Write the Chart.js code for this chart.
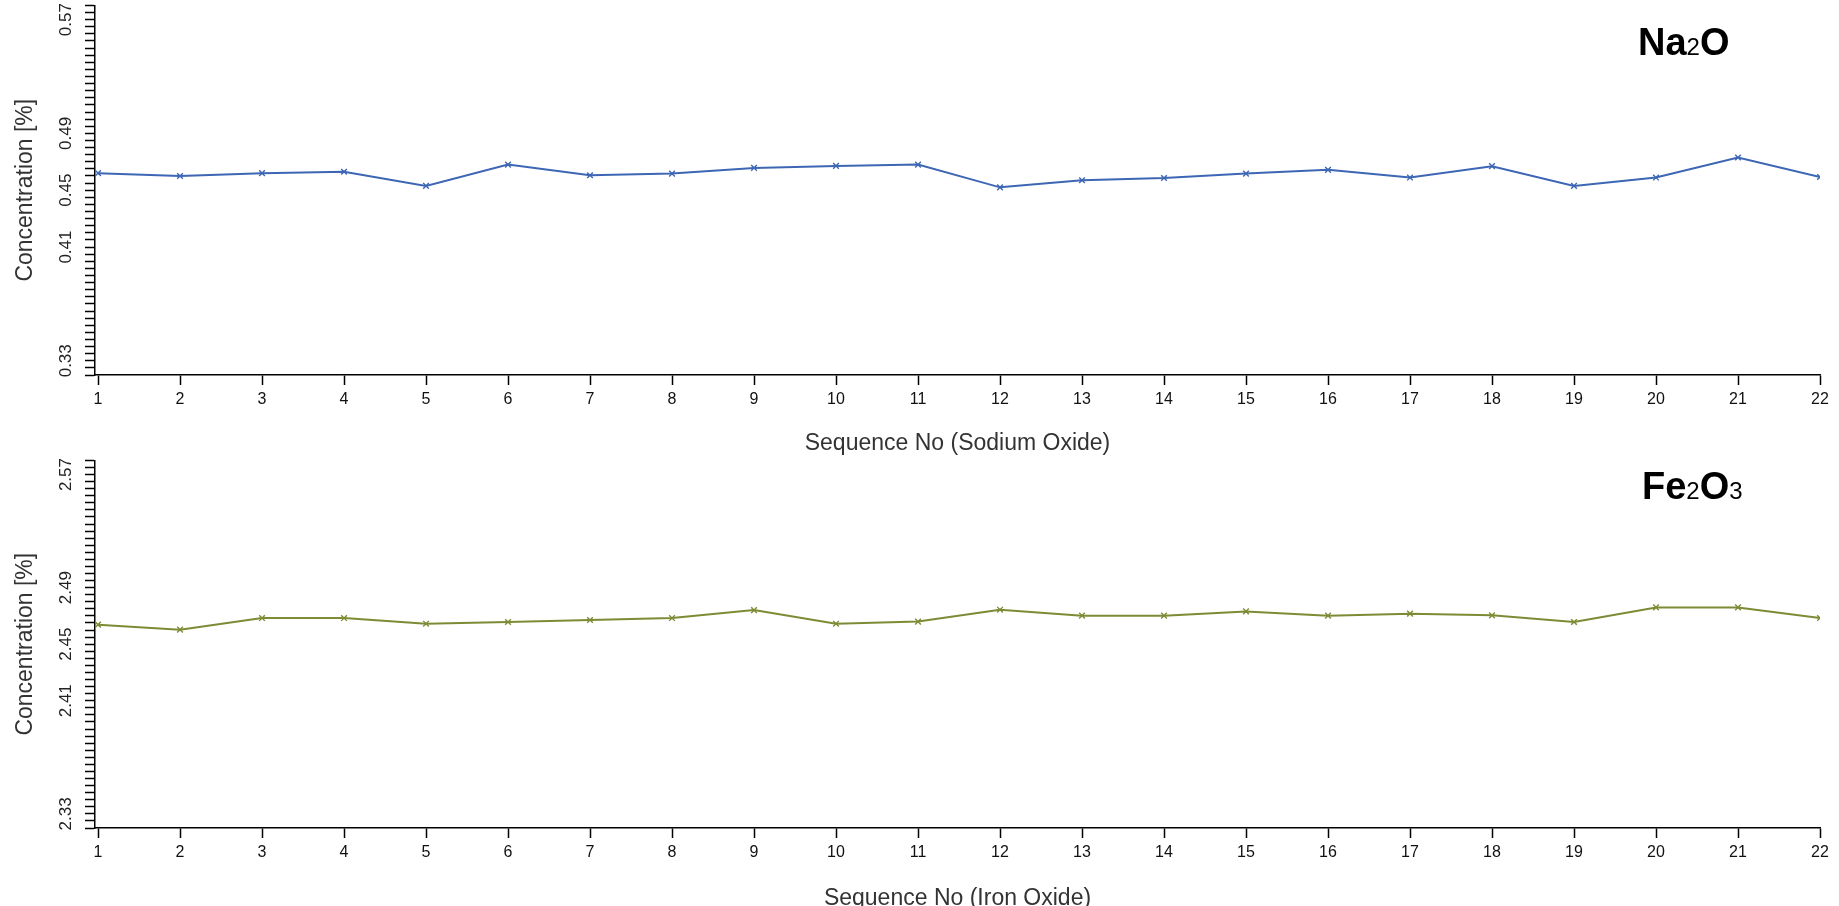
<!DOCTYPE html>
<html>
<head>
<meta charset="utf-8">
<title>Concentration by sequence</title>
<script src="https://cdn.jsdelivr.net/npm/chart.js@4.4.1/dist/chart.umd.min.js"></script>
<style>
  html, body { margin: 0; padding: 0; background: #ffffff; }
  body { width: 1839px; height: 906px; position: relative; overflow: hidden; }
  .panel { position: absolute; left: 0; width: 1839px; }
  #naPanel { top: 0; height: 455px; }
  #fePanel { top: 455px; height: 451px; }
</style>
</head>
<body>
<div class="panel" id="naPanel"><canvas id="naChart"></canvas></div>
<div class="panel" id="fePanel"><canvas id="feChart"></canvas></div>
<script>
// sequence numbers on the x axis
const sequence = [1, 2, 3, 4, 5, 6, 7, 8, 9, 10, 11, 12, 13, 14, 15, 16, 17, 18, 19, 20, 21, 22];

// sodium oxide concentration [%]
const na2o = [0.462, 0.460, 0.462, 0.463, 0.453, 0.468, 0.4605, 0.4617, 0.4657, 0.4671, 0.468,
  0.452, 0.457, 0.4586, 0.4617, 0.4643, 0.4589, 0.4669, 0.453, 0.4589, 0.473, 0.4593];

// iron oxide concentration [%]
const fe2o3 = [2.4638, 2.4603, 2.4685, 2.4685, 2.4645, 2.4657, 2.4671, 2.4685, 2.4741, 2.4645, 2.466,
  2.4744, 2.4702, 2.4702, 2.4732, 2.4702, 2.4716, 2.4704, 2.4657, 2.476, 2.476, 2.4685];

// labelled y values and axis ranges
const naTicks = [0.33, 0.41, 0.45, 0.49, 0.57];
const feTicks = [2.33, 2.41, 2.45, 2.49, 2.57];
const naRange = [0.32, 0.58];
const feRange = [2.32, 2.58];

// formula text: [text, subscript?]
const naFormula = [["Na", false], ["2", true], ["O", false]];
const feFormula = [["Fe", false], ["2", true], ["O", false], ["3", true]];

const FONT = "'Liberation Sans', Arial, sans-serif";

// y tick marks every 0.005, labels only on the listed values
function minorTicks(range) {
  const lo = Math.round(range[0] * 1000), hi = Math.round(range[1] * 1000);
  const out = [];
  for (let v = lo; v <= hi; v += 5) out.push({ value: v / 1000 });
  return out;
}

// draws the formula in the upper right, subscripts smaller on the same baseline
const formulaPlugin = {
  id: "formula",
  afterDraw(chart, args, opts) {
    if (!opts.parts) return;
    const ctx = chart.ctx;
    ctx.save();
    ctx.fillStyle = "#000";
    ctx.textBaseline = "alphabetic";
    let x = chart.chartArea.right - opts.offsetRight;
    const y = chart.chartArea.top + opts.offsetTop;
    opts.parts.forEach(([txt, sub]) => {
      ctx.font = (sub ? opts.subFont : opts.font);
      ctx.fillText(txt, x, y);
      x += ctx.measureText(txt).width;
    });
    ctx.restore();
  }
};

function makeChart(canvasId, values, color, range, labelled, xTitle, formula, lay) {
  return new Chart(document.getElementById(canvasId), {
    type: "line",
    data: {
      datasets: [{
        data: sequence.map((s, i) => ({ x: s, y: values[i] })),
        borderColor: color,
        borderWidth: 2,
        pointStyle: "crossRot",
        pointRadius: 4,
        pointBorderWidth: 1.4,
        pointBorderColor: color,
        pointBackgroundColor: color,
        tension: 0
      }]
    },
    options: {
      responsive: true,
      maintainAspectRatio: false,
      animation: false,
      events: [],
      layout: { padding: { top: lay.top, right: 19, left: 0, bottom: 0 } },
      plugins: {
        legend: { display: false },
        tooltip: { enabled: false },
        formula: {
          parts: formula,
          font: "bold 38px " + FONT,
          subFont: "24px " + FONT,
          offsetRight: lay.fx,
          offsetTop: lay.fy
        }
      },
      scales: {
        x: {
          type: "linear",
          min: 0.963,
          max: 22,
          afterBuildTicks: axis => { axis.ticks = sequence.map(v => ({ value: v })); },
          afterFit: scale => {
            scale.height = lay.xh;
            scale.paddingLeft = 0; scale.paddingRight = 0;
          },
          ticks: {
            autoSkip: false,
            maxRotation: 0,
            padding: 5,
            color: "#111",
            font: { family: FONT, size: 16 }
          },
          grid: { display: true, drawOnChartArea: false, drawTicks: true, tickLength: 10, tickColor: "#000", tickWidth: 1.5 },
          border: { display: true, color: "#000", width: 1.5 },
          title: {
            display: true,
            text: xTitle,
            color: "#333",
            font: { family: FONT, size: 23 },
            padding: { top: 0, bottom: lay.tb }
          }
        },
        y: {
          type: "linear",
          min: range[0],
          max: range[1],
          afterBuildTicks: axis => { axis.ticks = minorTicks(range); },
          afterFit: scale => {
            scale.width = 95;
            scale.paddingTop = 0; scale.paddingBottom = 0;
          },
          ticks: {
            autoSkip: false,
            minRotation: 90,
            maxRotation: 90,
            crossAlign: "center",
            padding: 2,
            color: "#222",
            font: { family: FONT, size: 17 },
            callback: v => {
              const hit = labelled.find(t => Math.abs(t - v) < 1e-6);
              return hit === undefined ? "" : hit.toFixed(2);
            }
          },
          grid: { display: true, drawOnChartArea: false, drawTicks: true, tickLength: 10, tickColor: "#000", tickWidth: 1.5 },
          border: { display: true, color: "#000", width: 1.5 },
          title: {
            display: true,
            text: "Concentration [%]",
            color: "#333",
            font: { family: FONT, size: 23 },
            padding: { top: 12, bottom: 0 }
          }
        }
      }
    },
    plugins: [formulaPlugin]
  });
}

makeChart("naChart", na2o, "#3d66b5", naRange, naTicks, "Sequence No (Sodium Oxide)", naFormula,
  { top: 5, xh: 80, tb: -2, fx: 182, fy: 50 });
makeChart("feChart", fe2o3, "#7d8b35", feRange, feTicks, "Sequence No (Iron Oxide)", feFormula,
  { top: 3, xh: 78, tb: -6, fx: 178, fy: 39 });
</script>
</body>
</html>
